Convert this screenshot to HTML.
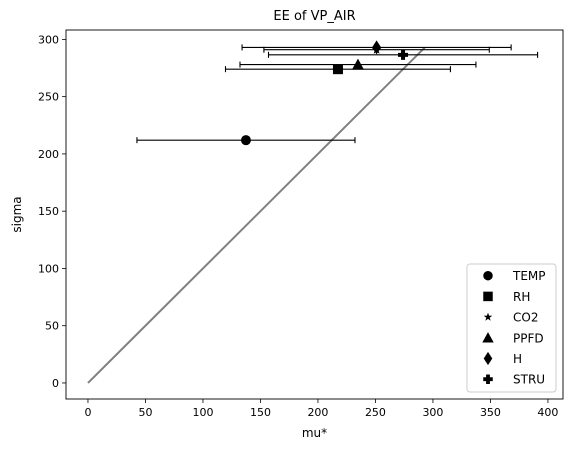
<!DOCTYPE html>
<html><head><meta charset="utf-8"><style>
body{margin:0;background:#fff;font-family:"Liberation Sans","DejaVu Sans",sans-serif;}
svg text{font-family:"DejaVu Sans","Liberation Sans",sans-serif;}
</style></head><body>
<svg id="chart" width="573" height="453" viewBox="0 0 573 453" xmlns="http://www.w3.org/2000/svg">
<rect x="0" y="0" width="573" height="453" fill="#fff"/>
<text x="314.5" y="20" font-size="13" text-anchor="middle">EE of VP_AIR</text>
<g id="grid"></g>
<g id="marks"></g>
<rect x="66" y="30" width="497" height="369" fill="none" stroke="#000" stroke-width="0.9"/>
<text x="314.5" y="437" font-size="12" text-anchor="middle">mu*</text>
<text x="21" y="214.5" font-size="12" text-anchor="middle" transform="rotate(-90 21 214.5)">sigma</text>
<g id="legend"></g>
</svg>
<script>
const names = ["TEMP","RH","CO2","PPFD","H","STRU"];
const muStar = [137.4, 217.4, 251, 234.8, 251, 274];
const sigma = [212, 274, 291, 278, 293, 286.5];
const conf = [94.8, 97.8, 98, 102.6, 117, 117];
const xTicks = [0,50,100,150,200,250,300,350,400];
const yTicks = [0,50,100,150,200,250,300];
const markers = ["circle","square","star","triangle","diamond","plus"];

const X0=66,X1=563,Y0=399,Y1=30;
const xMin=-19.1,xMax=413.1,yMin=-14,yMax=308.2;
const sx=v=>X0+(v-xMin)/(xMax-xMin)*(X1-X0);
const sy=v=>Y0-(v-yMin)/(yMax-yMin)*(Y0-Y1);
const NS="http://www.w3.org/2000/svg";
function mk(tag,attrs,parent){const e=document.createElementNS(NS,tag);for(const k in attrs)e.setAttribute(k,attrs[k]);parent.appendChild(e);return e;}
const grid=document.getElementById('grid'),marks=document.getElementById('marks'),leg=document.getElementById('legend');

xTicks.forEach(t=>{
  const l=mk('line',{x1:sx(t),x2:sx(t),y1:Y0,y2:Y0+4,stroke:'#000','stroke-width':0.8},grid);
  
  
  const tx=mk('text',{x:sx(t),y:Y0+17,'font-size':11,'text-anchor':'middle'},grid);
  tx.textContent=t;
  
  
});
yTicks.forEach(t=>{
  const l=mk('line',{x1:X0-4,x2:X0,y1:sy(t),y2:sy(t),stroke:'#000','stroke-width':0.8},grid);
  
  
  const tx=mk('text',{x:X0-7,y:sy(t)+4,'font-size':11,'text-anchor':'end'},grid);
  tx.textContent=t;
  
  
});

function marker(type,cx,cy,parent,s){
  let e;
  if(type==='circle') e=mk('circle',{cx,cy,r:5*s},parent);
  else if(type==='square') e=mk('rect',{x:cx-5*s,y:cy-5*s,width:10*s,height:10*s},parent);
  else if(type==='triangle') e=mk('polygon',{points:`${cx},${cy-6*s} ${cx+6*s},${cy+5*s} ${cx-6*s},${cy+5*s}`},parent);
  else if(type==='diamond') e=mk('polygon',{points:`${cx},${cy-7*s} ${cx+4.5*s},${cy} ${cx},${cy+7*s} ${cx-4.5*s},${cy}`},parent);
  else if(type==='plus') e=mk('path',{d:`M${cx-5*s},${cy-2*s}h${3*s}v${-3*s}h${4*s}v${3*s}h${3*s}v${4*s}h${-3*s}v${3*s}h${-4*s}v${-3*s}h${-3*s}z`},parent);
  else {let p=[];for(let i=0;i<10;i++){const r=(i%2?2:5)*s,a=-Math.PI/2+i*Math.PI/5;p.push((cx+r*Math.cos(a))+','+(cy+r*Math.sin(a)));}e=mk('polygon',{points:p.join(' ')},parent);}
  e.setAttribute('fill','#000');
  return e;
}

const maxS=Math.max(...sigma);
const diag=mk('line',{x1:sx(0),y1:sy(0),x2:sx(maxS),y2:sy(maxS),stroke:'#808080','stroke-width':2},marks);



names.forEach((n,i)=>{
  const y=sy(sigma[i]),a=sx(muStar[i]-conf[i]),b=sx(muStar[i]+conf[i]);
  const g=mk('g',{},marks);
  
  
  mk('line',{x1:a,x2:b,y1:y,y2:y,stroke:'#000','stroke-width':1.1},g);
  mk('line',{x1:a,x2:a,y1:y-3,y2:y+3,stroke:'#000','stroke-width':1.1},g);
  mk('line',{x1:b,x2:b,y1:y-3,y2:y+3,stroke:'#000','stroke-width':1.1},g);
});
names.forEach((n,i)=>{
  const m=marker(markers[i],sx(muStar[i]),sy(sigma[i]),marks,1);
  
  
});

const box=mk('rect',{x:467,y:264,width:89,height:128,rx:3,fill:'#fff',stroke:'#ccc','stroke-width':1},leg);


names.forEach((n,i)=>{
  const y=275.7+i*20.7;
  const m=marker(markers[i],488,y,leg,markers[i]==='star'?0.9:0.95);
  
  
  const t=mk('text',{x:513,y:y+4.5,'font-size':12},leg);
  t.textContent=n;
  
  
});
</script>
</body></html>
